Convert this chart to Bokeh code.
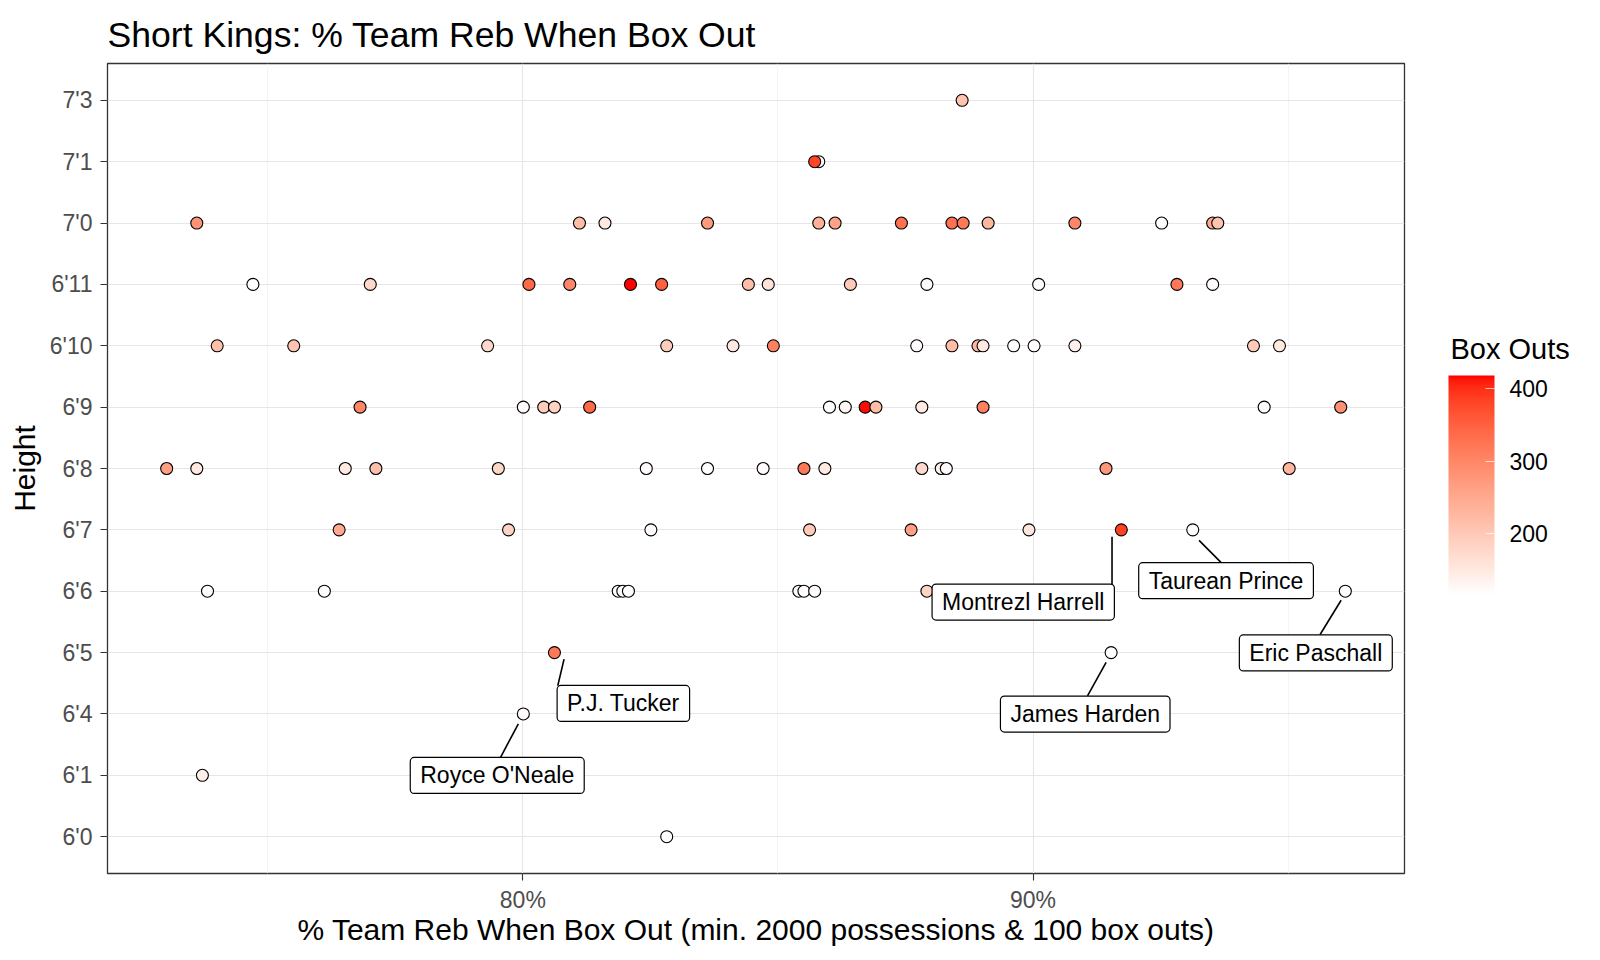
import numpy as np
from bokeh.plotting import figure
from bokeh.models import (ColumnDataSource, LinearColorMapper, ColorBar, FixedTicker,
                          PrintfTickFormatter, Label, Range1d)
from bokeh.embed import file_html
from bokeh.resources import INLINE

# ---------------- data ----------------
heights = ["6'0", "6'1", "6'4", "6'5", "6'6", "6'7", "6'8", "6'9", "6'10", "6'11", "7'0", "7'1", "7'3"]

pct_7_3 = [88.61]
box_7_3 = [210]
pct_7_1 = [85.80, 85.72]
box_7_1 = [125, 380]
pct_7_0 = [73.61, 81.11, 81.61, 83.62, 85.80, 86.12, 87.42, 88.41, 88.63, 89.12, 90.82, 92.52, 93.52, 93.62]
box_7_0 = [280, 220, 150, 270, 240, 260, 330, 330, 320, 230, 300, 120, 250, 210]
pct_6_11 = [74.71, 77.01, 80.12, 80.92, 82.11, 82.72, 84.42, 84.81, 86.42, 87.92, 90.11, 92.82, 93.52]
box_6_11 = [118, 180, 340, 300, 418, 350, 220, 160, 200, 120, 118, 320, 120]
pct_6_10 = [74.01, 75.51, 79.31, 82.82, 84.12, 84.91, 87.72, 88.41, 88.92, 89.02, 89.62, 90.02, 90.82, 94.32, 94.83]
box_6_10 = [215, 210, 175, 195, 150, 310, 120, 220, 230, 150, 118, 120, 140, 200, 150]
pct_6_9 = [76.81, 80.01, 80.41, 80.62, 81.31, 86.01, 86.32, 86.71, 86.92, 87.82, 89.02, 94.53, 96.03]
box_6_9 = [300, 120, 195, 185, 340, 118, 130, 415, 220, 150, 310, 120, 285]
pct_6_8 = [73.02, 73.61, 76.52, 77.12, 79.52, 82.42, 83.62, 84.71, 85.51, 85.92, 87.82, 88.20, 88.30, 91.43, 95.02]
box_6_8 = [265, 150, 150, 215, 180, 120, 118, 120, 320, 150, 175, 140, 120, 275, 230]
pct_6_7 = [76.40, 79.72, 82.51, 85.62, 87.61, 89.92, 91.73, 93.13]
box_6_7 = [250, 185, 120, 200, 265, 155, 385, 118]
pct_6_6 = [73.82, 76.11, 81.87, 81.96, 82.07, 85.41, 85.51, 85.72, 87.92, 96.12]
box_6_6 = [118, 120, 118, 120, 118, 120, 118, 122, 185, 118]
pct_6_5 = [80.62, 91.53]
box_6_5 = [320, 118]
pct_6_4 = [80.01]
box_6_4 = [120]
pct_6_1 = [73.72]
box_6_1 = [140]
pct_6_0 = [82.82]
box_6_0 = [118]

rows = [("7'3", pct_7_3, box_7_3), ("7'1", pct_7_1, box_7_1), ("7'0", pct_7_0, box_7_0),
        ("6'11", pct_6_11, box_6_11), ("6'10", pct_6_10, box_6_10), ("6'9", pct_6_9, box_6_9),
        ("6'8", pct_6_8, box_6_8), ("6'7", pct_6_7, box_6_7), ("6'6", pct_6_6, box_6_6),
        ("6'5", pct_6_5, box_6_5), ("6'4", pct_6_4, box_6_4), ("6'1", pct_6_1, box_6_1),
        ("6'0", pct_6_0, box_6_0)]

label_names = ["P.J. Tucker", "Royce O'Neale", "Montrezl Harrell", "Taurean Prince", "Eric Paschall", "James Harden"]
label_heights = ["6'5", "6'4", "6'7", "6'7", "6'6", "6'5"]
label_pct = [80.62, 80.01, 91.73, 93.13, 96.12, 91.53]

box_min, box_max = 115, 418
colorbar_ticks = [200, 300, 400]

# ---------------- layout / style ----------------
W, H = 1600, 960
ML, MR, MT, MB = 107, 196, 63, 87
FW, FH = W - ML - MR, H - MT - MB
X0, X1 = 71.86, 97.28
Y0, Y1 = 0.4, 13.6
PX_X = FW / (X1 - X0)
PX_Y = FH / (Y1 - Y0)
FONT = "Liberation Sans"

# label box centre offsets and segment offsets, in screen px (y down) from the point
label_style = {
    "P.J. Tucker":      dict(box=(68.9, 50.8),  seg=(9.6, 6.5, 3.3, 33.2)),
    "Royce O'Neale":    dict(box=(-26.1, 61.5), seg=(-5.0, 10.0, -22.8, 43.3)),
    "Montrezl Harrell": dict(box=(-98.1, 72.2), seg=(-9.3, 6.8, -9.3, 67.8)),
    "Taurean Prince":   dict(box=(33.3, 50.8),  seg=(6.3, 10.5, 28.2, 32.5)),
    "Eric Paschall":    dict(box=(-29.5, 61.7), seg=(-4.2, 9.0, -25.2, 43.3)),
    "James Harden":     dict(box=(-25.9, 61.5), seg=(-5.0, 9.8, -23.6, 43.2)),
}

# white -> red gradient interpolated in CIE Lab (as ggplot's scale_fill_gradient)
def srgb_to_lab(c):
    c = np.array(c, float) / 255
    lin = np.where(c <= 0.04045, c / 12.92, ((c + 0.055) / 1.055) ** 2.4)
    M = np.array([[0.4124, 0.3576, 0.1805], [0.2126, 0.7152, 0.0722], [0.0193, 0.1192, 0.9505]])
    X, Y, Z = M @ lin
    wn = (0.95047, 1.0, 1.08883)
    def f(t):
        return t ** (1 / 3) if t > 0.008856 else 7.787 * t + 16 / 116
    fx, fy, fz = f(X / wn[0]), f(Y / wn[1]), f(Z / wn[2])
    return np.array([116 * fy - 16, 500 * (fx - fy), 200 * (fy - fz)])

def lab_to_hex(lab):
    L, a, b = lab
    fy = (L + 16) / 116
    fx = fy + a / 500
    fz = fy - b / 200
    def finv(t):
        return t ** 3 if t ** 3 > 0.008856 else (t - 16 / 116) / 7.787
    X, Y, Z = 0.95047 * finv(fx), finv(fy), 1.08883 * finv(fz)
    Minv = np.array([[3.2406, -1.5372, -0.4986], [-0.9689, 1.8758, 0.0415], [0.0557, -0.2040, 1.0570]])
    lin = Minv @ np.array([X, Y, Z])
    lin = np.clip(lin, 0, 1)
    c = np.where(lin <= 0.0031308, 12.92 * lin, 1.055 * lin ** (1 / 2.4) - 0.055)
    c = np.clip(np.round(c * 255), 0, 255).astype(int)
    return "#%02x%02x%02x" % tuple(c)

lab_lo, lab_hi = srgb_to_lab((255, 255, 255)), srgb_to_lab((255, 0, 0))
palette = [lab_to_hex(lab_lo + (lab_hi - lab_lo) * t) for t in np.linspace(0, 1, 256)]
mapper = LinearColorMapper(palette=palette, low=box_min, high=box_max)

# ---------------- build data ----------------
xs, ys, bs = [], [], []
for h, pcts, boxes in rows:
    for v, b in zip(pcts, boxes):
        xs.append(v)
        ys.append(heights.index(h) + 1)
        bs.append(b)
src = ColumnDataSource(dict(x=xs, y=ys, box=bs))

p = figure(width=W, height=H, x_range=Range1d(X0, X1), y_range=Range1d(Y0, Y1),
           min_border_left=ML, min_border_right=MR, min_border_top=MT, min_border_bottom=MB,
           output_backend="svg", toolbar_location=None)
p.background_fill_color = "white"
p.border_fill_color = "white"
p.outline_line_color = "#333333"
p.outline_line_width = 1.3

p.title.text = "Short Kings: % Team Reb When Box Out"
p.title.text_font = FONT
p.title.text_font_size = "35.6px"
p.title.text_font_style = "normal"
p.title.text_color = "black"
p.title.align = "left"
p.title.standoff = 18

# axes
p.xaxis.ticker = FixedTicker(ticks=[80, 90], minor_ticks=[75, 85, 95])
p.xaxis.formatter = PrintfTickFormatter(format="%d%%")
p.yaxis.ticker = FixedTicker(ticks=list(range(1, len(heights) + 1)))
p.yaxis.major_label_overrides = {i + 1: h for i, h in enumerate(heights)}
for ax in (p.xaxis, p.yaxis):
    ax.axis_line_color = None
    ax.major_tick_line_color = "#333333"
    ax.major_tick_line_width = 1.1
    ax.major_tick_out = 7
    ax.major_tick_in = 0
    ax.minor_tick_line_color = None
    ax.major_label_text_font = FONT
    ax.major_label_text_font_size = "23px"
    ax.major_label_text_color = "#4d4d4d"
    ax.axis_label_text_font = FONT
    ax.axis_label_text_font_size = "30px"
    ax.axis_label_text_font_style = "normal"
    ax.axis_label_text_color = "black"
p.xaxis.axis_label = "% Team Reb When Box Out (min. 2000 possessions & 100 box outs)"
p.yaxis.axis_label = "Height"
p.xaxis.major_label_standoff = 6
p.xaxis.axis_label_standoff = -3
p.yaxis.major_label_standoff = 8
p.yaxis.axis_label_standoff = 6

p.xgrid.grid_line_color = "#e6e6e6"
p.xgrid.grid_line_width = 1.1
p.xgrid.minor_grid_line_color = "#f1f1f1"
p.xgrid.minor_grid_line_width = 0.8
p.ygrid.grid_line_color = "#e6e6e6"
p.ygrid.grid_line_width = 1.1

# points
p.scatter("x", "y", source=src, size=12, marker="circle",
          fill_color={"field": "box", "transform": mapper},
          line_color="black", line_width=1.1)

# repel-style labels
sx0, sy0, sx1, sy1 = [], [], [], []
for name, h, v in zip(label_names, label_heights, label_pct):
    yv = heights.index(h) + 1
    st = label_style[name]
    a, b, c, d = st["seg"]
    sx0.append(v + a / PX_X); sy0.append(yv - b / PX_Y)
    sx1.append(v + c / PX_X); sy1.append(yv - d / PX_Y)
p.segment(sx0, sy0, sx1, sy1, line_color="black", line_width=1.6)

for name, h, v in zip(label_names, label_heights, label_pct):
    yv = heights.index(h) + 1
    dx, dy = label_style[name]["box"]
    lab = Label(x=v, y=yv, x_units="data", y_units="data", text=name,
                x_offset=dx, y_offset=-dy, text_align="center", text_baseline="middle",
                text_font=FONT, text_font_size="23px", text_color="black",
                background_fill_color="white", border_line_color="black",
                border_line_width=1.2, padding=(10, 5), border_radius=4)
    p.add_layout(lab)

# colour bar (placed to the right of the panel)
cb = ColorBar(color_mapper=mapper, ticker=FixedTicker(ticks=colorbar_ticks),
              width=46, height=220,
              major_label_text_font=FONT, major_label_text_font_size="23px",
              major_label_text_color="black", label_standoff=15,
              major_tick_line_color="white", major_tick_line_alpha=0.7,
              major_tick_in=9, major_tick_out=0,
              bar_line_color=None, border_line_color=None,
              background_fill_color=None, margin=0, padding=0,
              location=(FW + 44, 278))
p.add_layout(cb, "center")

# legend title, drawn as the (horizontal) title of an empty colour bar
cb_title = ColorBar(color_mapper=mapper, ticker=FixedTicker(ticks=[]), orientation="horizontal",
                    width=120, height=1, scale_alpha=0.0,
                    title="Box Outs", title_text_font=FONT, title_text_font_size="29px",
                    title_text_font_style="normal", title_text_color="black", title_standoff=0,
                    major_tick_line_color=None, minor_tick_line_color=None,
                    major_label_text_alpha=0.0, bar_line_color=None, border_line_color=None,
                    background_fill_color=None, margin=0, padding=0,
                    location=(FW + 46, FH - 302))
p.add_layout(cb_title, "center")

open("out.html", "w").write(file_html(p, INLINE))
